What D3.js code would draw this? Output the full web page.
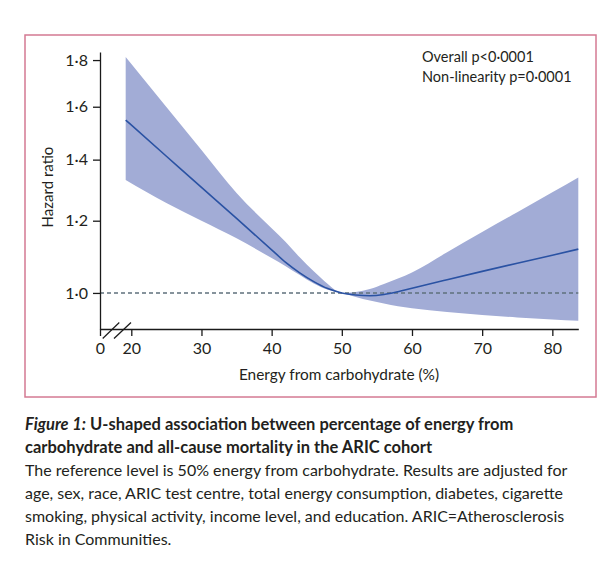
<!DOCTYPE html>
<html><head><meta charset="utf-8">
<script src="https://cdn.jsdelivr.net/npm/d3@7"></script>
<style>
body{margin:0;background:#fff}
svg{display:block}
text{font-family:Lato,"Open Sans",sans-serif;fill:#231f20}
</style>
</head><body>
<svg id="c" width="608" height="572"></svg>
<script>
// ---- data ----
const carbPct    = [19.2, 25, 30, 35, 40, 42, 44, 46, 48, 50, 52, 54, 56, 58, 60, 65, 70, 75, 80, 83.7];
const hrEstimate = [1.547, 1.412, 1.305, 1.207, 1.115, 1.080, 1.052, 1.029, 1.011, 1.000, 0.995, 0.993, 0.996, 1.003, 1.012, 1.034, 1.056, 1.078, 1.100, 1.117];
const hrUpper    = [1.814, 1.599, 1.434, 1.287, 1.177, 1.137, 1.094, 1.056, 1.023, 1.000, 1.0025, 1.010, 1.023, 1.037, 1.053, 1.108, 1.166, 1.226, 1.289, 1.338];
const hrLower    = [1.330, 1.255, 1.200, 1.148, 1.092, 1.070, 1.046, 1.024, 1.008, 1.000, 0.990, 0.981, 0.974, 0.967, 0.962, 0.953, 0.946, 0.940, 0.935, 0.932];
const xTickValues = [0, 20, 30, 40, 50, 60, 70, 80];
const yTickValues = [1.0, 1.2, 1.4, 1.6, 1.8];
const referenceHR = 1.0;
const annotations = ["Overall p<0·0001", "Non-linearity p=0·0001"];
const xTitle = "Energy from carbohydrate (%)";
const yTitle = "Hazard ratio";
const captionTitle = [
  [{t:"Figure 1:", i:true}, {t:" U-shaped association between percentage of energy from"}],
  [{t:"carbohydrate and all-cause mortality in the ARIC cohort"}]
];
const captionBody = [
  "The reference level is 50% energy from carbohydrate. Results are adjusted for",
  "age, sex, race, ARIC test centre, total energy consumption, diabetes, cigarette",
  "smoking, physical activity, income level, and education. ARIC=Atherosclerosis",
  "Risk in Communities."
];

// ---- layout ----
const svg = d3.select("#c");
svg.append("rect").attr("width",608).attr("height",572).attr("fill","#fff");
svg.append("rect").attr("x",25).attr("y",35).attr("width",571).attr("height",362)
  .attr("fill","none").attr("stroke","#d47a93").attr("stroke-width",1.5);

// broken x axis: 0 sits at the axis origin, the rest is linear from 19 upward
const pxPerUnit = 447 / 63.7;
const x = d3.scaleLinear().domain([0, 19, 83.7]).range([100, 131.3 - pxPerUnit, 578.3]);
const y = d3.scaleLog().domain([0.913, 1.837]).range([329, 52]);

const rows = carbPct.map((c,i)=>({c, est:hrEstimate[i], lo:hrLower[i], hi:hrUpper[i]}));
const curve = d3.curveMonotoneX;

svg.append("path").datum(rows)
  .attr("d", d3.area().x(d=>x(d.c)).y0(d=>y(d.lo)).y1(d=>y(d.hi)).curve(curve))
  .attr("fill","#a2acd6");

svg.append("line")
  .attr("x1", x(0)).attr("x2", x(83.7))
  .attr("y1", y(referenceHR)).attr("y2", y(referenceHR))
  .attr("stroke","#5f707c").attr("stroke-width",1.4).attr("stroke-dasharray","4,3");

svg.append("path").datum(rows)
  .attr("d", d3.line().x(d=>x(d.c)).y(d=>y(d.est)).curve(curve))
  .attr("fill","none").attr("stroke","#2a52a3").attr("stroke-width",1.6);

const fmt = d => d.toFixed(1).replace(".", "·");
const yAxis = svg.append("g").attr("transform","translate(100,0)")
  .call(d3.axisLeft(y).tickValues(yTickValues).tickFormat(fmt).tickSize(7).tickSizeOuter(0).tickPadding(5));
const xAxis = svg.append("g").attr("transform","translate(0,329)")
  .call(d3.axisBottom(x).tickValues(xTickValues).tickSize(7).tickSizeOuter(0).tickPadding(7));
[yAxis, xAxis].forEach(g=>{
  g.selectAll("path,line").attr("stroke","#1a1a1a").attr("stroke-width",1.3);
  g.selectAll("text").attr("font-family","Lato").attr("font-size",16).attr("fill","#231f20");
});

// axis break marks
const breakPairs = [[x(0)+2.7, x(0)+19.3], [x(0)+14, x(20)-0.3]];
breakPairs.forEach(([a,b])=>{
  svg.append("line").attr("x1",a).attr("y1",338.5).attr("x2",b).attr("y2",322.5)
    .attr("stroke","#1a1a1a").attr("stroke-width",1.2);
});

// titles
svg.append("text").attr("x", 339).attr("y", 380).attr("text-anchor","middle")
  .attr("font-size",15.4).text(xTitle);
svg.append("text").attr("transform","translate(53,187) rotate(-90)").attr("text-anchor","middle")
  .attr("font-size",15).text(yTitle);

annotations.forEach((t,i)=>{
  svg.append("text").attr("x",422).attr("y",62+i*20).attr("font-size",14.5).text(t);
});

// caption
captionTitle.forEach((line,i)=>{
  const t = svg.append("text").attr("x",25).attr("y",430+i*23).attr("font-size",16.5).attr("font-weight","bold");
  line.forEach(s=>t.append("tspan").attr("font-style", s.i?"italic":"normal").text(s.t));
});
captionBody.forEach((line,i)=>{
  svg.append("text").attr("x",25).attr("y",476+i*23).attr("font-size",16).text(line);
});
</script>
</body></html>
